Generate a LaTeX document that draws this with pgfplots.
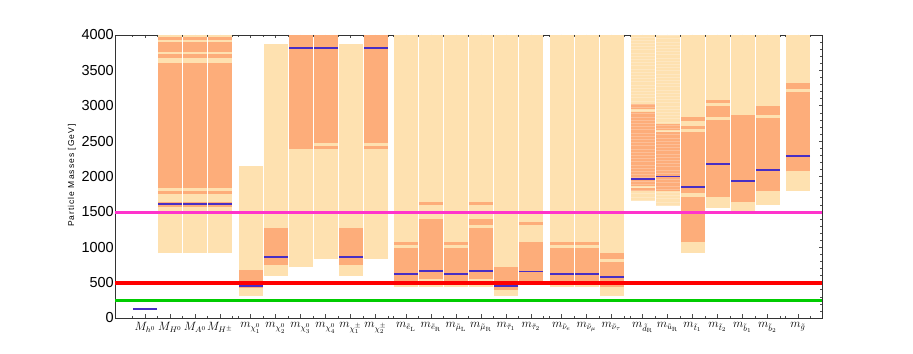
\documentclass[border=0pt]{standalone}
\usepackage[no-math]{fontspec}
\setmainfont{Liberation Sans}
\usepackage{pgfplots}
\usepackage{pgfplotstable}
\pgfplotsset{compat=1.18}

\definecolor{lightband}{RGB}{254,225,176}
\definecolor{darkband}{RGB}{253,173,122}
\definecolor{bestfit}{RGB}{72,46,196}
\definecolor{lmagenta}{RGB}{255,51,204}
\definecolor{lred}{RGB}{255,0,0}
\definecolor{lgreen}{RGB}{0,204,0}

% x lo hi  (outer allowed range)
\pgfplotstableread{
x lo hi
170 914 4000
195 914 4000
220 914 4000
250.5 311 2153
275.5 598 3873
300.5 716 4000
325.5 834 4000
350.5 598 3873
375.5 834 4000
406 434 4000
431 433 4000
456 434 4000
481 433 4000
506 316 4000
531 480 4000
561.5 434 4000
586.5 434 4000
611.5 316 4000
642.5 1658 4000
667.5 1588 4000
692.5 914 4000
717.5 1559 4000
742.5 1510 4000
767.5 1597 4000
798 1795 4000
}\outer

% x lo hi  (inner ranges)
\pgfplotstableread{
x lo hi
170 3930 3970
170 3755 3900
170 3680 3725
170 1842 3600
170 1753 1795
170 1565 1644
195 3930 3970
195 3755 3900
195 3680 3725
195 1842 3600
195 1753 1795
195 1565 1644
220 3930 3970
220 3755 3900
220 3680 3725
220 1842 3600
220 1753 1795
220 1565 1644
250.5 420 678
275.5 754 1272
300.5 2393 4000
325.5 2469 4000
325.5 2393 2431
350.5 754 1272
375.5 2469 4000
375.5 2393 2431
406 1030 1075
406 466 995
431 1597 1635
431 547 1395
456 1030 1075
456 466 995
481 1597 1635
481 1314 1395
481 547 1272
506 396 716
531 1319 1357
531 513 1074
561.5 1030 1075
561.5 466 995
586.5 1030 1075
586.5 466 995
611.5 834 914
611.5 443 791
642.5 2954 3025
642.5 1866 2916
642.5 1795 1833
667.5 2657 2738
667.5 1795 2625
692.5 2789 2837
692.5 2671 2718
692.5 1760 2635
692.5 1070 1715
717.5 3043 3081
717.5 2837 2996
717.5 1715 2799
742.5 1635 2869
767.5 2869 2996
767.5 1795 2831
798 3236 3317
798 2073 3199
}\inner

% best-fit masses
\pgfplotstableread{
x m
145 125
170 1616
195 1616
220 1616
250.5 455
275.5 858
300.5 3816
325.5 3816
350.5 858
375.5 3816
406 618
431 660
456 618
481 660
506 452
531 657
561.5 618
586.5 618
611.5 575
642.5 1960
667.5 2000
692.5 1856
717.5 2177
742.5 1936
767.5 2096
798 2294
}\best

\pgfplotsset{
  band/.style={draw=none, mark=none,
    error bars/.cd, y dir=plus, y explicit, error mark=none,
    error bar style={line width=24pt, draw=#1}},
}

\begin{document}
\begin{tikzpicture}
\begin{axis}[
  width=707pt, height=283pt, scale only axis,
  xmin=115, xmax=822, ymin=0, ymax=4000,
  axis line style={line width=0.9pt, black!80},
  tick align=inside,
  major tick length=3.5pt, minor tick length=2pt,
  tick style={black!70, line width=0.5pt},
  ytick={0,500,...,4000}, minor y tick num=4,
  ytick pos=right, yticklabel pos=left,
  yticklabel style={font=\fontsize{14.5}{16}\selectfont, inner sep=1pt},
  /pgf/number format/assume math mode=true,
  /pgf/number format/set thousands separator={},
  xtick pos=both,
  xtick={145,170,195,220,250.5,275.5,300.5,325.5,350.5,375.5,406,431,456,481,506,531,561.5,586.5,611.5,642.5,667.5,692.5,717.5,742.5,767.5,798},
  xticklabels={$M_{h^0}$,$M_{H^0}$,$M_{A^0}$,$M_{H^\pm}$,
    $m_{\chi^0_1}$,$m_{\chi^0_2}$,$m_{\chi^0_3}$,$m_{\chi^0_4}$,$m_{\chi^\pm_1}$,$m_{\chi^\pm_2}$,
    $m_{\tilde e_{\mathrm{L}}}$,$m_{\tilde e_{\mathrm{R}}}$,$m_{\tilde\mu_{\mathrm{L}}}$,$m_{\tilde\mu_{\mathrm{R}}}$,$m_{\tilde\tau_1}$,$m_{\tilde\tau_2}$,
    $m_{\tilde\nu_e}$,$m_{\tilde\nu_\mu}$,$m_{\tilde\nu_\tau}$,
    $m_{\tilde d_{\mathrm{R}}}$,$m_{\tilde u_{\mathrm{R}}}$,$m_{\tilde t_1}$,$m_{\tilde t_2}$,$m_{\tilde b_1}$,$m_{\tilde b_2}$,
    $m_{\tilde g}$},
  xticklabel style={font=\fontsize{11.5}{13}\selectfont, inner sep=0pt, yshift=-4.5pt},
  minor xtick={132.5,157.5,182.5,207.5,232.5,238,263,288,313,338,363,388,393.5,418.5,443.5,468.5,493.5,518.5,543.5,549,574,599,624,630,655,680,705,730,755,780,785.5,810.5},
  ylabel={Particle Masses [GeV]},
  every axis y label/.style={at={(rel axis cs:-0.061,0.503)}, rotate=90, anchor=center,
    font=\fontsize{8.5}{10}\selectfont\addfontfeature{LetterSpace=12}},
]

\addplot[band=lightband] table[x=x, y=lo, y error expr=\thisrow{hi}-\thisrow{lo}] {\outer};
\addplot[band=darkband] table[x=x, y=lo, y error expr=\thisrow{hi}-\thisrow{lo}] {\inner};
% fine horizontal texture of the two right-handed squark columns
\addplot[draw=none, mark=none,
  error bars/.cd, y dir=plus, y explicit, error mark=none,
  error bar style={line width=24pt, draw=white, draw opacity=0.22, dash pattern=on 0.8pt off 2.4pt}]
  table[x=x, y=lo, y error expr=\thisrow{hi}-\thisrow{lo}] {
x lo hi
642.5 1658 4000
667.5 1588 4000
};

\addplot[only marks, mark=-, mark size=12pt, mark options={line width=1.8pt, draw=bestfit}]
  table[x=x, y=m] {\best};

\addplot[lmagenta, line width=3.6pt] coordinates {(115,1490) (822,1490)};
\addplot[lred, line width=4pt] coordinates {(115,500) (822,500)};
\addplot[lgreen, line width=3.6pt] coordinates {(115,250) (822,250)};

\coordinate (bl) at (axis cs:0,-508.8);
\coordinate (tr) at (axis cs:913,4494.7);
\end{axis}
\path (bl) rectangle (tr);
\end{tikzpicture}
\end{document}
